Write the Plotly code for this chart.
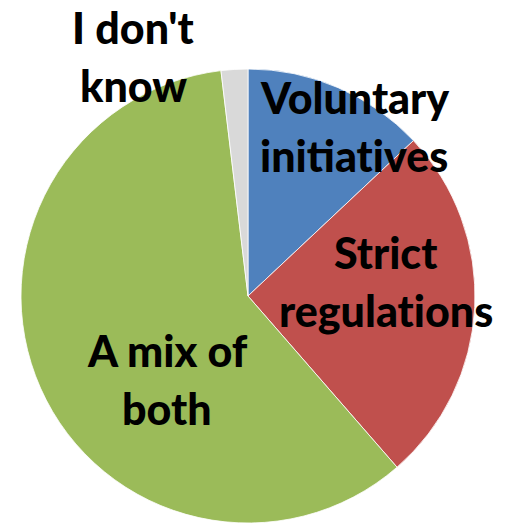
import plotly.graph_objects as go

# Survey answers and their shares (percent)
labels = ["Voluntary initiatives", "Strict regulations", "A mix of both", "I don't know"]
values = [13, 25.6, 59.5, 1.9]
colors = ["#4F81BD", "#C0504D", "#9BBB59", "#D9D9D9"]

# Text lines for each slice label (split as they are drawn);
# a zero-width non-joiner keeps "t" and "i" from forming a ligature
ZWNJ = "\u200c"
label_lines = [
    ["Voluntary", f"initiat{ZWNJ}ives"],
    ["Strict", f"regulat{ZWNJ}ions"],
    ["A mix of", "both"],
    ["I don't", "know"],
]

W, H = 506, 526
cx, cy, r = 248, 296, 227  # pie centre and radius in pixels

# label placement: centre x and first baseline y (pixels), line step
label_pos = [
    (354, 113),
    (386, 268),
    (167, 366),
    (133, 43),
]
line_step = 58
font_size = 43

fig = go.Figure(
    go.Pie(
        labels=labels,
        values=values,
        sort=False,
        direction="clockwise",
        rotation=0,
        marker=dict(colors=colors, line=dict(color="white", width=0.8)),
        textinfo="none",
        hoverinfo="label+percent",
        showlegend=False,
        domain=dict(
            x=[(cx - r) / W, (cx + r) / W],
            y=[(H - cy - r) / H, (H - cy + r) / H],
        ),
    )
)

annotations = []
for lines, (px, py) in zip(label_lines, label_pos):
    for i, line in enumerate(lines):
        base = py + i * line_step
        annotations.append(
            dict(
                text=line,
                x=px / W,
                y=1 - (base - 0.36 * font_size) / H,
                xref="paper",
                yref="paper",
                xanchor="center",
                yanchor="middle",
                showarrow=False,
                font=dict(family="Lato", size=font_size, color="black", weight=900),
            )
        )

fig.update_layout(
    width=W,
    height=H,
    margin=dict(l=0, r=0, t=0, b=0),
    paper_bgcolor="white",
    plot_bgcolor="white",
    annotations=annotations,
)

fig.write_html("out.html")
